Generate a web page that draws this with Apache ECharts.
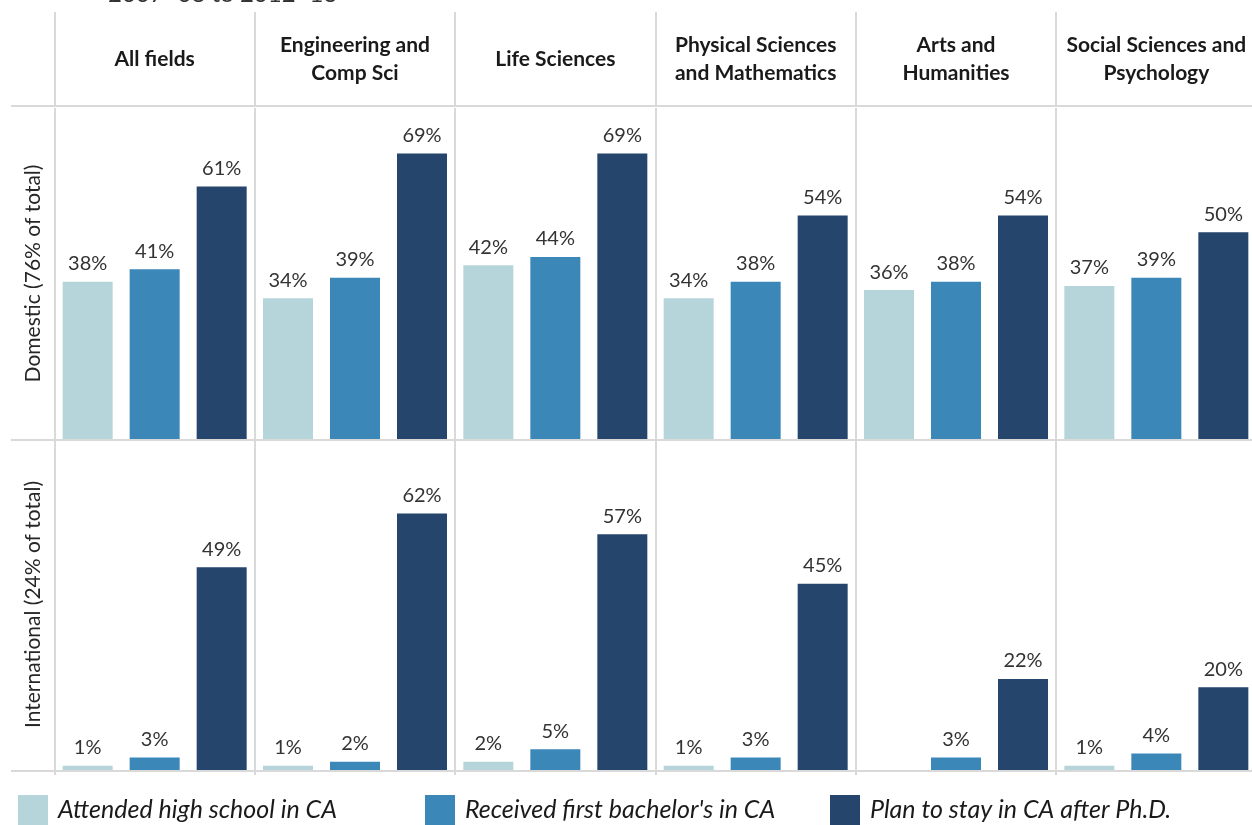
<!DOCTYPE html>
<html>
<head>
<meta charset="utf-8">
<script src="https://cdn.jsdelivr.net/npm/echarts@6/dist/echarts.min.js"></script>
<style>
  html, body { margin: 0; padding: 0; background: #fff; }
  #chart { width: 1252px; height: 825px; }
</style>
</head>
<body>
<div id="chart"></div>
<script>
// field columns (header labels)
const fields = ['All fields', 'Engineering and\nComp Sci', 'Life Sciences',
  'Physical Sciences\nand Mathematics', 'Arts and\nHumanities', 'Social Sciences and\nPsychology'];
const seriesNames = ['Attended high school in CA', "Received first bachelor's in CA", 'Plan to stay in CA after Ph.D.'];
const rowLabels = ['Domestic (76% of total)', 'International (24% of total)'];

// domestic students, %
const domesticHighSchool = [38, 34, 42, 34, 36, 37];
const domesticBachelors = [41, 39, 44, 38, 38, 39];
const domesticStay = [61, 69, 69, 54, 54, 50];

// international students, % ('-' = no value shown)
const intlHighSchool = [1, 1, 2, 1, '-', 1];
const intlBachelors = [3, 2, 5, 3, 3, 4];
const intlStay = [49, 62, 57, 45, 22, 20];

const colors = ['#b6d5da', '#3b87b8', '#25456d'];
const lineColor = '#d9d9d9';
const font = 'Lato, "Open Sans", sans-serif';

const chart = echarts.init(document.getElementById('chart'));

function barSeries(name, data, idx, color) {
  return {
    name: name,
    type: 'bar',
    xAxisIndex: idx,
    yAxisIndex: idx,
    data: data,
    barWidth: 50,
    barGap: '34%',
    itemStyle: { color: color },
    label: {
      show: true,
      position: 'top',
      distance: 8,
      formatter: '{c}%',
      fontFamily: font,
      fontSize: 20,
      color: '#333'
    },
    emphasis: { disabled: true },
    animation: false
  };
}

const rows = [
  [domesticHighSchool, domesticBachelors, domesticStay],
  [intlHighSchool, intlBachelors, intlStay]
];
const series = [];
rows.forEach(function (row, r) {
  row.forEach(function (data, s) {
    series.push(barSeries(seriesNames[s], data, r, colors[s]));
  });
});

function legendAt(i, left) {
  return {
    data: [seriesNames[i]],
    left: left,
    top: 795,
    padding: 0,
    icon: 'rect',
    itemWidth: 30,
    itemHeight: 30,
    selectedMode: false,
    textStyle: {
      fontFamily: font,
      fontStyle: 'italic',
      fontSize: 25,
      color: '#1a1a1a',
      padding: [5, 0, 0, 5]
    }
  };
}

const option = {
  backgroundColor: '#fff',
  animation: false,
  title: {
    text: '2007\u201308 to 2012\u201313',
    left: 108,
    top: -18,
    padding: 0,
    textStyle: { fontFamily: font, fontSize: 24, fontWeight: 'normal', color: '#333' }
  },
  legend: [legendAt(0, 18), legendAt(1, 425), legendAt(2, 830)],
  grid: [
    { left: 54.5, width: 1202, top: 108, height: 331, outerBoundsMode: 'none' },
    { left: 54.5, width: 1202, top: 439, height: 331, outerBoundsMode: 'none' },
    { left: 54.5, width: 1202, top: 12, height: 94, outerBoundsMode: 'none' }
  ],
  xAxis: [
    {
      type: 'category', gridIndex: 0, data: fields, position: 'top',
      axisLine: { show: false }, axisTick: { show: false },
      axisLabel: {
        interval: 0, margin: 49, verticalAlign: 'middle',
        fontFamily: font, fontSize: 21, fontWeight: 'bold', lineHeight: 28, color: '#1a1a1a'
      },
      splitLine: { show: true, interval: 0, lineStyle: { color: lineColor, width: 2 } }
    },
    {
      type: 'category', gridIndex: 1, data: fields,
      axisLine: { show: false },
      axisTick: { show: true, interval: 0, length: 5, lineStyle: { color: lineColor, width: 2 } },
      axisLabel: { show: false },
      splitLine: { show: true, interval: 0, lineStyle: { color: lineColor, width: 2 } }
    },
    {
      type: 'category', gridIndex: 2, data: fields,
      axisLine: { show: false }, axisTick: { show: false }, axisLabel: { show: false },
      splitLine: { show: true, interval: 0, lineStyle: { color: lineColor, width: 2 } }
    }
  ],
  yAxis: [0, 1].map(function (i) {
    return {
      type: 'value', gridIndex: i, min: 0, max: 80,
      name: rowLabels[i], nameLocation: 'middle', nameRotate: 90, nameGap: 11,
      nameTextStyle: { fontFamily: font, fontSize: 21, color: '#262626' },
      axisLine: { show: false }, axisTick: { show: false },
      axisLabel: { show: false }, splitLine: { show: false }
    };
  }).concat([{
    type: 'value', gridIndex: 2, show: false
  }]),
  graphic: [106, 440, 771].map(function (y) {
    return {
      type: 'line', silent: true,
      shape: { x1: 11, y1: y, x2: 1252, y2: y },
      style: { stroke: lineColor, lineWidth: 2 }
    };
  }),
  series: series
};

chart.setOption(option);
</script>
</body>
</html>
